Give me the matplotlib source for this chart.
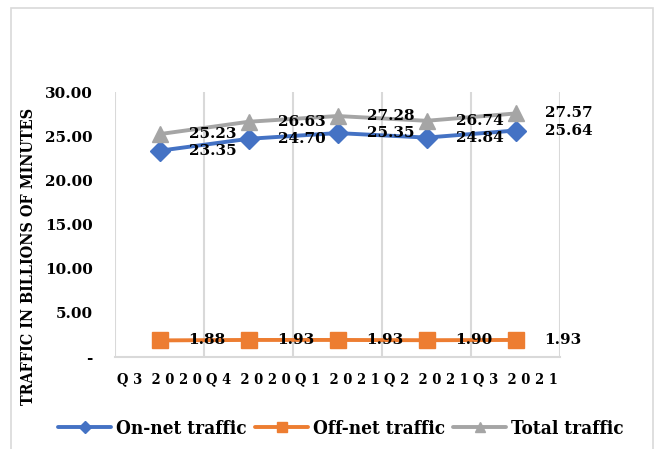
import matplotlib
matplotlib.use("Agg")
from matplotlib import pyplot as plt
from matplotlib.patches import Rectangle

# Quarterly voice traffic, billions of minutes
quarters = ["Q3 2020", "Q4 2020", "Q1 2021", "Q2 2021", "Q3 2021"]
on_net = [23.35, 24.70, 25.35, 24.84, 25.64]
off_net = [1.88, 1.93, 1.93, 1.90, 1.93]
total = [25.23, 26.63, 27.28, 26.74, 27.57]
y_ticks = [0, 5, 10, 15, 20, 25, 30]

BLUE = "#4472C4"
ORANGE = "#ED7D31"
GRAY = "#A5A5A5"
GRID = "#D9D9D9"
FONT = "DejaVu Serif"

W, H = 657, 449
fig = plt.figure(figsize=(W / 100, H / 100), dpi=100)

# plot area in pixel coordinates
left, right, top, bottom = 115, 560, 92, 357
ax = fig.add_axes([left / W, 1 - bottom / H, (right - left) / W, (bottom - top) / H])

x = list(range(len(quarters)))
series = [
    ("On-net traffic", on_net, BLUE, "D", 10),
    ("Off-net traffic", off_net, ORANGE, "s", 11.5),
    ("Total traffic", total, GRAY, "^", 12),
]
for name, vals, color, marker, ms in series:
    ax.plot(x, vals, color=color, lw=2.8, marker=marker, markersize=ms,
            label=name, solid_capstyle="round", zorder=3)
    for xi, v in zip(x, vals):
        ax.annotate(f"{v:.2f}", (xi, v), xytext=(21, 0), textcoords="offset points",
                    ha="left", va="center", fontsize=11, fontweight="bold",
                    family=FONT, color="black", zorder=4)

ax.set_xlim(-0.5, len(quarters) - 0.5)
ax.set_ylim(0, 30)

# vertical gridlines sit between categories
ax.set_xticks([i - 0.5 for i in range(len(quarters) + 1)], minor=True)
ax.grid(True, which="minor", axis="x", color=GRID, lw=1.5, zorder=0)
ax.grid(False, which="major")

ax.set_xticks(x)
spaced = []
for q in quarters:
    a, b = q.split()
    spaced.append(" ".join(a) + "  " + " ".join(b))
ax.set_xticklabels(spaced, fontsize=10.5, fontweight="bold", family=FONT,
                   fontstretch="condensed")

ax.set_yticks(y_ticks)
ax.set_yticklabels(["-" if t == 0 else f"{t:.2f}" for t in y_ticks],
                   fontsize=11, fontweight="bold", family=FONT)

ax.tick_params(axis="both", which="both", length=0)
ax.tick_params(axis="y", pad=16)
ax.tick_params(axis="x", pad=11)

for side in ["top", "right", "left"]:
    ax.spines[side].set_visible(False)
ax.spines["bottom"].set_color(GRID)
ax.spines["bottom"].set_linewidth(1.5)

fig.text(29 / W, 1 - 256 / H, "TRAFFIC IN BILLIONS OF MINUTES", rotation=90,
         ha="center", va="center", fontsize=11.5, fontweight="bold", family=FONT,
         fontstretch="condensed")

leg = fig.legend(loc="center", bbox_to_anchor=(341 / W, 1 - 429 / H), ncol=3,
                 frameon=False, handlelength=2.8, columnspacing=0.45, handletextpad=0.25,
                 markerscale=0.6,
                 prop={"family": FONT, "weight": "bold", "size": 13.6, "stretch": "condensed"})

# light outer frame of the chart area
fig.patches.append(Rectangle((11 / W, -0.05), (653 - 11) / W, 1.05 - 8 / H,
                             transform=fig.transFigure, fill=False,
                             edgecolor=GRID, lw=1.2))

fig.savefig("out.png", dpi=100)
